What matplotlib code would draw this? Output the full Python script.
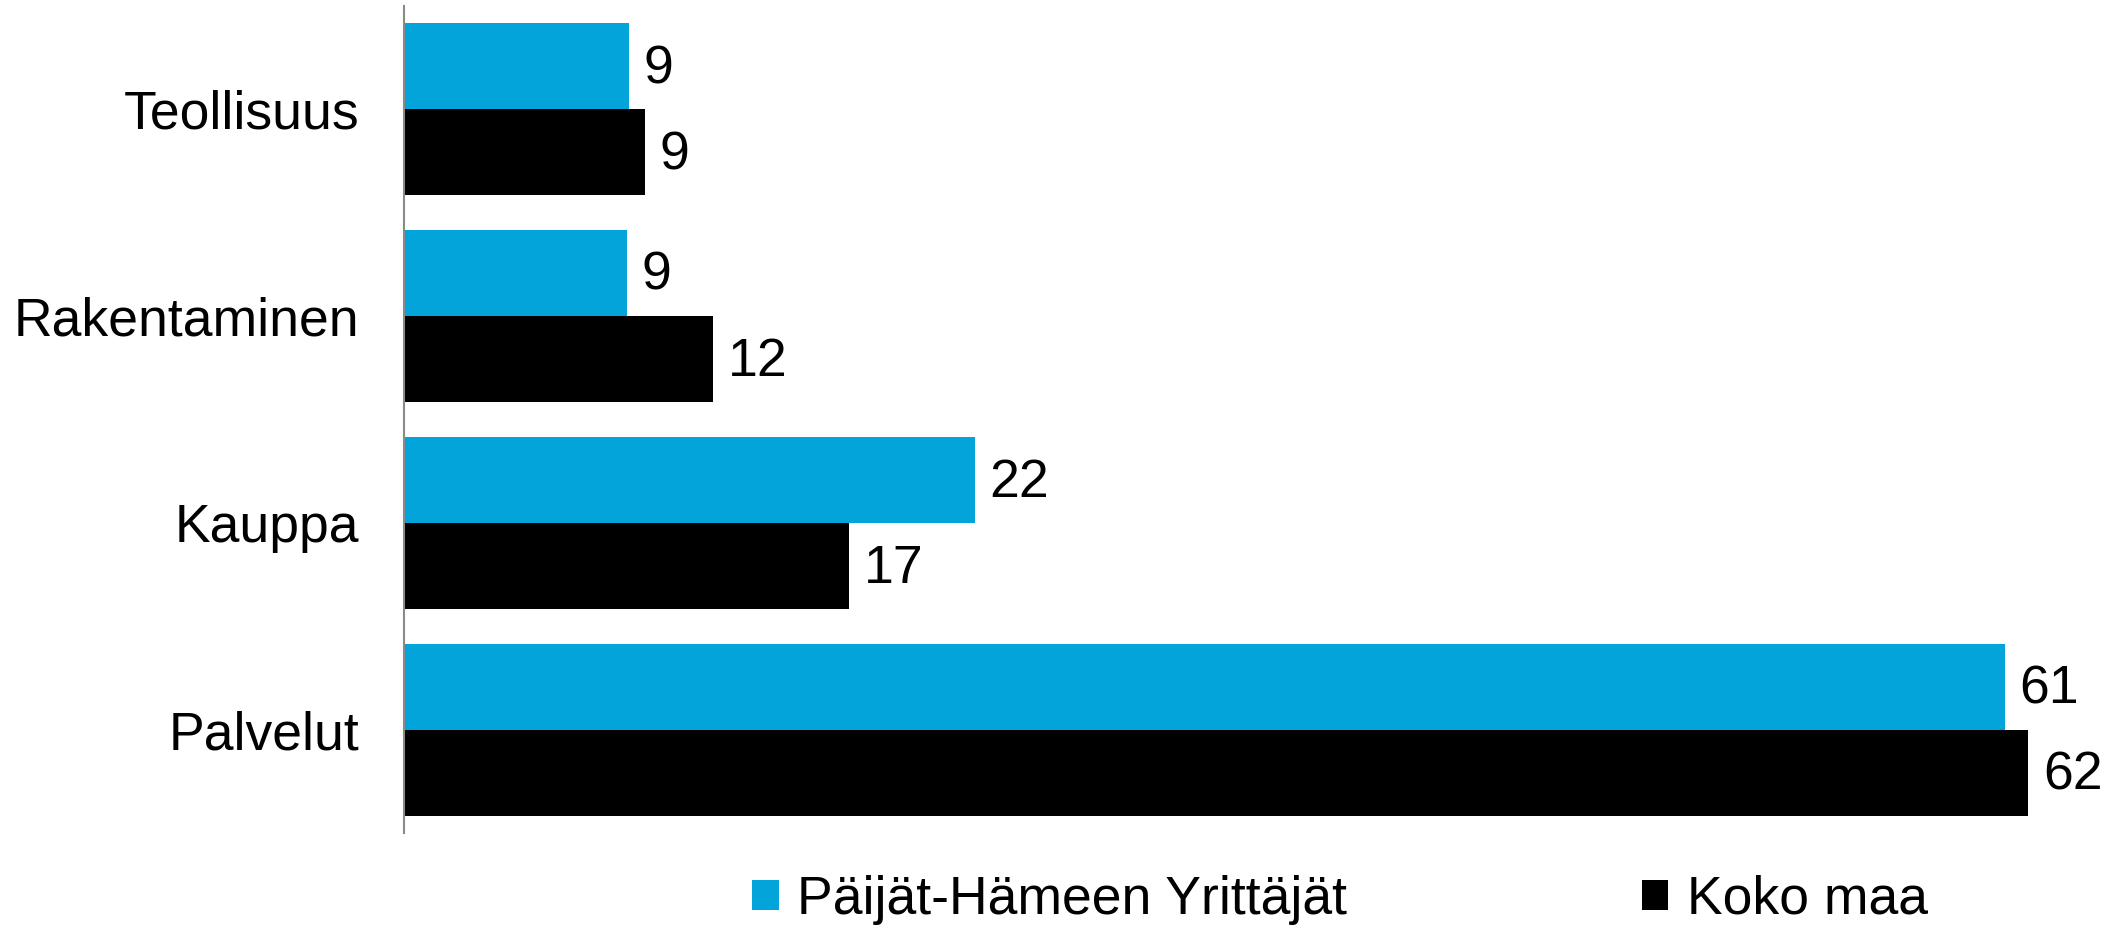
import matplotlib
matplotlib.use("Agg")
import matplotlib.pyplot as plt
from matplotlib.patches import Patch
import numpy as np

categories = ["Teollisuus", "Rakentaminen", "Kauppa", "Palvelut"]
series_names = ["Päijät-Hämeen Yrittäjät", "Koko maa"]
paijat_hame = [8.6, 8.5, 21.8, 61.1]
koko_maa = [9.2, 11.8, 17.0, 62.0]
label_paijat = ["9", "9", "22", "61"]
label_koko = ["9", "12", "17", "62"]

BLUE = "#02A4D9"
BLACK = "#000000"
FONT = "Liberation Sans"
FS = 38.5

fig = plt.figure(figsize=(21.18, 9.25), dpi=100)
ax = fig.add_axes([404/2118, (925-833)/925, (2107-404)/2118, (833-6)/925])

y = np.arange(len(categories))
h = 0.4155
b1 = ax.barh(y - h/2, paijat_hame, height=h, color=BLUE, edgecolor="none")
b2 = ax.barh(y + h/2, koko_maa, height=h, color=BLACK, edgecolor="none")

for bars, labels in ((b1, label_paijat), (b2, label_koko)):
    texts = ax.bar_label(bars, labels=labels, padding=10.5, fontsize=FS, family=FONT, color="black")
    for t in texts:
        x0, y0 = t.xyann
        t.xyann = (x0, y0 - 2)

ax.set_xlim(0, 65)
ax.set_ylim(3.5, -0.5)
ax.set_yticks(y)
ax.set_yticklabels(categories, fontsize=FS, family=FONT)
ax.tick_params(axis="y", length=0, pad=32)
ax.set_xticks([])
for s in ["top", "right", "bottom"]:
    ax.spines[s].set_visible(False)
ax.spines["left"].set_color("#8a8a8a")
ax.spines["left"].set_linewidth(1.5)

handles = [Patch(facecolor=BLUE, edgecolor="none"), Patch(facecolor=BLACK, edgecolor="none")]
fig.legend(handles, series_names, loc="center left", bbox_to_anchor=(752/2118, 1 - 900/925),
           ncol=2, frameon=False, prop={"family": FONT, "size": FS},
           handlelength=0.5, handleheight=0.5, handletextpad=0.35, columnspacing=5.5,
           borderaxespad=0, borderpad=0)

fig.savefig("out.png", dpi=100, facecolor="white")
